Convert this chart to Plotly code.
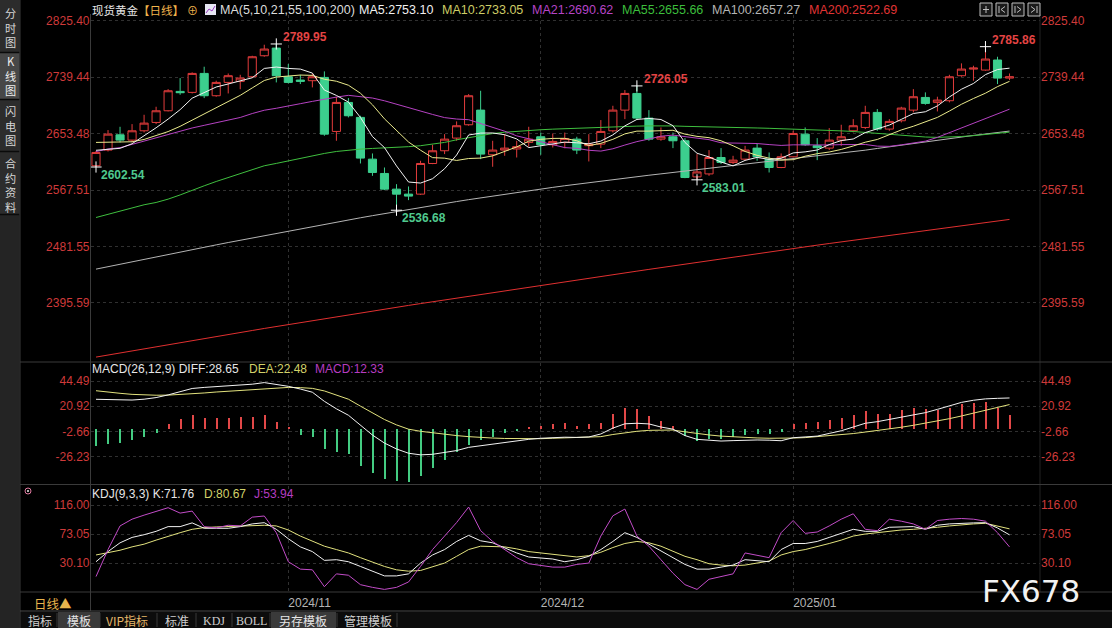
import plotly.graph_objects as go

W, H = 1112, 628
BG = "#000000"
UP = "#e23c3c"
DN = "#3ccf8e"
GRID = "#303030"
AXRED = "#cf3a3a"
NUM = "Liberation Sans, Arial, sans-serif"
CJK = "Noto Sans CJK SC, sans-serif"

# ---------------- data ----------------
idx = list(range(77))                      # trading-day index, 2024-10-10 .. 2025-01-28
month_ticks = [16, 37, 58]
month_labels = ["2024/11", "2024/12", "2025/01"]

opens = [2604.4, 2628.3, 2651.6, 2643.5, 2657.7, 2670.4, 2688.2, 2717.7, 2716.2, 2745.1,
         2711.1, 2731.4, 2733.0, 2740.0, 2772.0, 2783.7, 2740.0, 2735.0, 2734.0, 2739.0,
         2656.7, 2700.9, 2678.1, 2614.5, 2592.7, 2568.8, 2561.2, 2561.2, 2607.9, 2627.3,
         2646.6, 2666.9, 2689.2, 2621.2, 2628.3, 2630.0, 2640.0, 2648.6, 2636.4, 2640.0,
         2645.0, 2635.0, 2637.4, 2657.7, 2689.2, 2714.6, 2677.0, 2645.0, 2648.6, 2642.5,
         2587.5, 2592.0, 2617.0, 2609.5, 2614.5, 2631.3, 2614.5, 2601.8, 2618.1, 2652.6,
         2635.0, 2631.3, 2643.5, 2657.7, 2662.8, 2685.7, 2660.3, 2673.0, 2689.2, 2708.5,
         2701.0, 2703.5, 2741.6, 2751.7, 2750.2, 2765.5, 2738.0]
highs = [2627.0, 2658.8, 2663.8, 2667.9, 2682.1, 2694.3, 2721.2, 2738.0, 2746.7, 2755.3,
         2734.0, 2745.0, 2743.0, 2772.0, 2788.8, 2789.95, 2759.4, 2743.0, 2745.0, 2748.2,
         2709.6, 2707.5, 2680.6, 2623.2, 2601.8, 2576.4, 2572.9, 2612.0, 2636.4, 2652.6,
         2672.0, 2713.6, 2718.7, 2642.5, 2652.6, 2642.5, 2663.8, 2655.0, 2653.6, 2655.0,
         2648.6, 2652.6, 2674.0, 2695.8, 2719.7, 2726.05, 2689.2, 2662.8, 2655.0, 2646.6,
         2622.2, 2628.3, 2631.3, 2619.6, 2634.8, 2638.4, 2624.7, 2623.2, 2657.7, 2662.8,
         2646.6, 2661.8, 2666.9, 2675.5, 2695.8, 2690.8, 2675.5, 2694.3, 2721.2, 2716.2,
         2709.6, 2743.0, 2760.4, 2756.8, 2785.86, 2770.5, 2745.0]
lows = [2602.54, 2626.2, 2640.0, 2640.0, 2655.2, 2667.9, 2687.2, 2712.6, 2714.6, 2707.5,
        2709.5, 2714.6, 2721.0, 2738.0, 2770.5, 2731.4, 2729.9, 2728.9, 2723.8, 2650.1,
        2642.5, 2678.1, 2607.9, 2589.1, 2567.3, 2536.68, 2552.1, 2560.0, 2606.9, 2622.2,
        2642.5, 2665.4, 2614.5, 2602.9, 2619.6, 2617.0, 2633.3, 2621.2, 2632.3, 2631.0,
        2622.2, 2611.0, 2631.3, 2655.2, 2675.5, 2674.0, 2642.5, 2642.5, 2631.3, 2585.5,
        2583.01, 2589.1, 2607.0, 2607.0, 2612.0, 2612.0, 2594.2, 2600.8, 2617.0, 2634.8,
        2613.0, 2628.3, 2634.8, 2655.2, 2660.3, 2657.7, 2657.7, 2670.4, 2685.7, 2697.4,
        2687.2, 2701.0, 2740.0, 2734.0, 2749.2, 2728.9, 2735.0]
closes = [2624.7, 2652.6, 2643.5, 2657.7, 2669.4, 2688.2, 2718.7, 2715.7, 2745.1, 2711.1,
          2731.4, 2741.6, 2738.0, 2770.5, 2782.2, 2741.6, 2731.4, 2733.0, 2740.0, 2652.6,
          2700.9, 2680.6, 2616.1, 2594.2, 2568.8, 2561.2, 2558.2, 2607.9, 2627.3, 2645.0,
          2665.4, 2711.1, 2622.2, 2628.3, 2631.3, 2633.5, 2645.0, 2636.4, 2641.5, 2646.0,
          2628.3, 2637.4, 2656.7, 2689.2, 2714.6, 2677.0, 2645.0, 2648.6, 2642.5, 2586.5,
          2595.0, 2617.0, 2609.5, 2613.0, 2628.3, 2618.0, 2601.8, 2618.1, 2653.6, 2636.4,
          2632.0, 2643.5, 2648.6, 2665.4, 2685.7, 2660.3, 2672.0, 2692.3, 2709.6, 2699.4,
          2704.5, 2740.0, 2751.7, 2753.2, 2767.0, 2738.0, 2740.0]

ma5 = [2628.0, 2629.5, 2631.0, 2638.0, 2649.6, 2662.3, 2675.5, 2689.9, 2707.4, 2715.8,
       2724.4, 2729.0, 2733.4, 2738.5, 2752.7, 2754.8, 2752.7, 2751.7, 2745.6, 2719.7,
       2711.6, 2701.4, 2678.0, 2648.9, 2632.1, 2604.2, 2579.7, 2578.1, 2584.7, 2599.9,
       2620.8, 2651.3, 2654.2, 2654.4, 2651.7, 2645.3, 2632.1, 2634.9, 2637.5, 2640.5,
       2639.4, 2637.9, 2642.0, 2651.5, 2665.2, 2675.0, 2676.5, 2674.9, 2665.5, 2639.9,
       2623.5, 2617.9, 2610.1, 2604.2, 2612.6, 2617.2, 2614.1, 2615.8, 2624.0, 2625.6,
       2628.4, 2636.7, 2642.8, 2645.2, 2655.0, 2660.7, 2666.4, 2675.1, 2684.0, 2686.7,
       2695.6, 2709.2, 2721.0, 2729.8, 2743.3, 2751.0, 2753.10]
ma10 = [2640.0, 2640.0, 2640.5, 2641.0, 2644.5, 2650.0, 2656.5, 2664.5, 2674.0, 2682.7,
        2693.3, 2702.2, 2711.7, 2723.0, 2734.3, 2739.6, 2740.9, 2742.6, 2742.1, 2736.2,
        2733.2, 2727.1, 2714.9, 2697.3, 2675.9, 2657.9, 2640.6, 2628.1, 2616.8, 2616.0,
        2612.5, 2615.5, 2616.1, 2619.5, 2625.8, 2633.1, 2641.9, 2644.7, 2646.1, 2646.2,
        2642.5, 2635.1, 2638.6, 2644.7, 2653.0, 2657.2, 2657.2, 2658.4, 2658.5, 2652.6,
        2649.2, 2647.2, 2642.5, 2634.9, 2626.2, 2620.3, 2616.0, 2613.0, 2613.7, 2619.0,
        2622.8, 2625.4, 2629.3, 2634.6, 2640.3, 2644.5, 2651.6, 2659.0, 2664.6, 2670.9,
        2678.1, 2687.8, 2698.1, 2706.9, 2715.0, 2725.0, 2733.05]
ma21 = [2626.0, 2630.0, 2632.0, 2637.0, 2642.5, 2648.0, 2653.0, 2657.0, 2662.0, 2666.0,
        2670.0, 2674.0, 2678.0, 2684.0, 2689.0, 2692.0, 2695.0, 2699.0, 2702.5, 2706.0,
        2709.0, 2711.7, 2710.0, 2707.6, 2703.4, 2698.2, 2692.0, 2686.8, 2682.6, 2677.8,
        2675.6, 2674.6, 2669.0, 2663.7, 2657.1, 2650.0, 2645.5, 2641.0, 2636.6, 2632.1,
        2631.0, 2628.0, 2626.8, 2630.3, 2636.0, 2641.2, 2645.2, 2649.5, 2651.1, 2649.1,
        2646.5, 2644.2, 2639.4, 2638.9, 2638.9, 2638.3, 2636.7, 2635.4, 2636.3, 2636.0,
        2635.4, 2636.1, 2636.6, 2637.0, 2636.9, 2634.3, 2634.0, 2636.3, 2639.2, 2641.9,
        2647.7, 2654.8, 2661.2, 2668.1, 2675.4, 2682.5, 2690.62]
ma55 = [2525.6, 2530.7, 2535.8, 2540.9, 2545.0, 2548.5, 2553.6, 2560.0, 2567.3, 2573.9,
        2580.5, 2586.6, 2592.7, 2599.3, 2604.4, 2608.0, 2612.0, 2615.6, 2619.6, 2623.2,
        2626.2, 2628.3, 2629.8, 2630.8, 2631.5, 2632.5, 2633.5, 2635.0, 2637.0, 2640.0,
        2644.0, 2647.5, 2650.5, 2653.5, 2655.5, 2657.0, 2658.3, 2659.3, 2660.2, 2661.0,
        2661.8, 2662.5, 2663.0, 2663.6, 2664.2, 2664.8, 2665.2, 2665.4, 2665.1, 2664.5,
        2663.9, 2663.5, 2663.1, 2662.8, 2662.4, 2662.0, 2661.5, 2661.0, 2660.3, 2659.2,
        2658.6, 2658.1, 2657.6, 2656.6, 2655.2, 2653.7, 2652.0, 2650.3, 2649.0, 2648.2,
        2647.7, 2648.0, 2649.0, 2650.3, 2652.1, 2654.0, 2655.66]
ma100 = [2447.0, 2450.8, 2454.5, 2458.3, 2462.0, 2465.7, 2469.4, 2473.0, 2476.7, 2480.3,
         2483.9, 2487.5, 2491.0, 2494.6, 2498.1, 2501.6, 2505.1, 2508.5, 2511.9, 2515.3,
         2518.6, 2521.9, 2525.2, 2528.4, 2531.6, 2534.8, 2537.9, 2541.0, 2544.0, 2547.0,
         2549.9, 2552.8, 2555.6, 2558.4, 2561.1, 2563.8, 2566.4, 2569.0, 2571.5, 2574.0,
         2576.4, 2578.8, 2581.1, 2583.4, 2585.6, 2587.8, 2590.0, 2592.1, 2594.2, 2596.3,
         2598.4, 2600.4, 2602.4, 2604.4, 2606.4, 2608.4, 2610.4, 2612.4, 2614.5, 2616.6,
         2618.8, 2621.0, 2623.3, 2625.7, 2628.2, 2630.8, 2633.4, 2636.0, 2638.6, 2641.2,
         2643.7, 2646.1, 2648.4, 2650.6, 2652.8, 2655.0, 2657.27]
ma200 = [2313.0, 2316.2, 2319.3, 2322.5, 2325.6, 2328.7, 2331.8, 2334.9, 2338.0, 2341.1,
         2344.2, 2347.3, 2350.4, 2353.5, 2356.6, 2359.6, 2362.7, 2365.7, 2368.8, 2371.8,
         2374.7, 2377.6, 2380.5, 2383.3, 2386.1, 2388.9, 2391.7, 2394.5, 2397.3, 2400.1,
         2402.9, 2405.7, 2408.5, 2411.3, 2414.1, 2416.9, 2419.6, 2422.3, 2425.0, 2427.7,
         2430.4, 2433.1, 2435.8, 2438.5, 2441.2, 2443.9, 2446.6, 2449.3, 2452.0, 2454.7,
         2457.4, 2460.1, 2462.8, 2465.5, 2468.2, 2470.8, 2473.4, 2476.0, 2478.5, 2481.0,
         2483.5, 2486.0, 2488.5, 2491.0, 2493.5, 2495.9, 2498.3, 2500.8, 2503.2, 2505.6,
         2508.0, 2510.4, 2512.9, 2515.3, 2517.7, 2520.2, 2522.69]

diff = [27.4, 27.0, 26.8, 26.7, 27.5, 29.0, 31.5, 34.5, 37.5, 38.5,
        39.2, 40.0, 40.5, 41.5, 43.0, 41.5, 39.5, 37.0, 34.0, 25.5,
        18.5, 12.5, 3.5, -6.0, -13.5, -19.0, -23.0, -24.5, -24.0, -22.5,
        -20.5, -17.5, -16.0, -14.0, -12.5, -11.2, -10.0, -9.0, -8.2, -8.0,
        -8.2, -7.8, -5.0, 0.5, 4.5, 5.0, 4.4, 1.5, -0.5, -6.5,
        -10.0, -11.0, -11.6, -11.2, -10.6, -10.6, -10.8, -11.3, -8.5, -7.5,
        -7.0, -4.5, -2.0, 1.5, 5.0, 6.5, 8.5, 10.5, 12.7, 14.9,
        18.0, 21.5, 24.5, 26.5, 27.8, 28.3, 28.65]
dea = [35.4, 34.0, 33.0, 32.0, 31.5, 31.2, 31.3, 31.8, 32.5, 33.3,
       34.2, 35.0, 35.8, 36.6, 37.5, 38.2, 38.5, 38.3, 37.6, 35.2,
       31.5, 27.5, 21.0, 14.5, 8.5, 3.5, -0.5, -2.5, -4.0, -5.3,
       -6.5, -7.5, -8.3, -8.8, -9.2, -9.5, -9.6, -9.4, -9.0, -8.6,
       -8.4, -8.2, -7.5, -5.5, -3.8, -2.5, -1.6, -1.2, -1.3, -3.0,
       -4.6, -5.9, -7.0, -7.8, -8.3, -8.7, -9.0, -9.1, -8.8, -8.4,
       -7.6, -6.8, -5.8, -4.6, -3.2, -1.9, -0.5, 1.3, 3.1, 5.0,
       7.0, 9.3, 11.8, 14.4, 16.9, 19.8, 22.48]
macd = [-16.2, -14.0, -13.0, -10.9, -7.8, -3.7, 4.7, 8.7, 12.8, 10.3,
        10.3, 10.3, 10.9, 10.9, 12.8, 6.5, 0.8, -5.6, -7.8, -19.3,
        -21.8, -23.4, -34.9, -41.1, -47.3, -49.2, -49.8, -44.0, -37.0, -29.0,
        -22.0, -15.0, -11.0, -7.5, -4.5, -2.0, 1.5, 2.5, 4.7, 5.0,
        2.0, 4.0, 5.6, 13.4, 19.6, 18.0, 11.8, 7.0, 2.5, -6.8,
        -11.5, -10.0, -10.0, -7.8, -5.9, -4.7, -5.3, -2.8, 4.0, 5.6,
        6.2, 7.8, 10.3, 12.8, 16.5, 14.0, 14.0, 17.1, 19.6, 18.0,
        17.1, 19.6, 23.4, 24.0, 25.0, 19.0, 12.33]

k_line = [32, 47, 60, 68, 72, 77, 84, 84, 89.5, 81.5,
          81.5, 81.5, 84, 88, 89.8, 80, 66, 54, 47, 34,
          35, 32, 25, 18, 11, 11, 14, 30, 42, 50,
          62, 71, 63, 60, 52, 45, 39, 37, 36, 32,
          35, 40, 50, 62, 75, 68, 58, 47, 38, 28,
          21, 21, 24, 27, 35, 34, 32, 50, 59, 59,
          62, 68, 74, 80, 77, 77, 83, 84, 84, 80,
          86, 88, 89, 89.5, 89.8, 82, 71.76]
d_line = [42, 45, 49, 54, 58, 64, 70, 75, 80, 82.5,
          83.5, 84, 84, 84.5, 86, 85, 79, 70, 62, 55,
          50, 45, 38, 31, 25, 20, 18, 19, 24, 30,
          40, 50, 55, 55, 54, 51, 47, 45, 43, 40,
          39, 41, 46, 53, 59, 62, 60, 55, 48, 40,
          35, 29, 27, 26, 27, 30, 33, 42, 47, 50,
          54, 59, 64, 70, 73, 75, 78, 79, 80, 81,
          83, 85, 87, 88, 88.9, 85, 80.67]
j_line = [10, 50, 85, 95, 101, 107, 112, 104, 107, 84,
          82, 86, 85, 98, 99.7, 75, 32, 21, 20, -5,
          14, 12, -2, -6, -9, -6, 2, 25, 50, 70,
          90, 113, 78, 62, 50, 38, 29, 26, 24, 24,
          28, 30, 70, 100, 110, 70, 55, 35, 15, -2,
          -9, 6, 10, 14, 45, 42, 38, 75, 93, 74,
          76, 85, 95, 103, 80, 78, 95, 92, 88, 80,
          93, 95, 96, 95, 92, 75, 53.94]

price_ticks = ["2825.40", "2739.44", "2653.48", "2567.51", "2481.55", "2395.59"]
macd_ticks = ["44.49", "20.92", "-2.66", "-26.23"]
kdj_ticks = ["116.00", "73.05", "30.10"]

ext_idx = [0, 15, 25, 45, 50, 74]
ext_kind = ["low", "high", "low", "high", "low", "high"]

# ---------------- helpers ----------------
def fx(x):
    return x / W

def fy(y):
    return 1 - y / H

ann = []
shapes = []

def txt(x, y, s, color, size=12, family=NUM, xanchor="left"):
    ann.append(dict(x=fx(x), y=fy(y), xref="paper", yref="paper", text=s, showarrow=False,
                    xanchor=xanchor, yanchor="middle", borderpad=0,
                    font=dict(color=color, size=size, family=family)))

def rect(x0, y0, x1, y1, fill, line=None, layer="below"):
    shapes.append(dict(type="rect", xref="paper", yref="paper", x0=fx(x0), x1=fx(x1),
                       y0=fy(y1), y1=fy(y0), fillcolor=fill, layer=layer,
                       line=dict(width=0) if line is None else dict(color=line, width=1)))

def seg(x0, y0, x1, y1, color, width=1, dash="solid"):
    shapes.append(dict(type="line", xref="paper", yref="paper", x0=fx(x0), x1=fx(x1),
                       y0=fy(y0), y1=fy(y1), layer="above",
                       line=dict(color=color, width=width, dash=dash)))

# pixel calibration of panes
PL, PR = 90.5, 1040.0            # plot left/right
CX0, CDX = 96.0, 12.02           # x of first candle, spacing
main_top, main_bot = 15, 361
macd_top, macd_bot = 363, 483
kdj_top, kdj_bot = 486, 591
p_per_px = (2825.40 - 2567.51) / (190.0 - 20.7)
main_rng = [2825.40 - (main_bot - 20.7) * p_per_px, 2825.40 + (20.7 - main_top) * p_per_px]
m_per_px = 0.9342
macd_rng = [44.49 - (macd_bot - 381) * m_per_px, 44.49 + (381 - macd_top) * m_per_px]
k_per_px = 42.95 / 29.0
kdj_rng = [116.0 - (kdj_bot - 505) * k_per_px, 116.0 + (505 - kdj_top) * k_per_px]
x_rng = [(PL - CX0) / CDX, (PR - CX0) / CDX]

# ---------------- traces ----------------
fig = go.Figure()
fig.add_trace(go.Candlestick(
    x=idx, open=opens, high=highs, low=lows, close=closes,
    increasing=dict(line=dict(color=UP, width=1), fillcolor=BG),
    decreasing=dict(line=dict(color=DN, width=1), fillcolor=DN),
    whiskerwidth=0, hoverinfo="skip", showlegend=False, xaxis="x", yaxis="y"))

ma_styles = [(ma200, "#e03030"), (ma100, "#b4b4b4"), (ma55, "#3fbf3f"),
             (ma21, "#b542c2"), (ma10, "#eaea8c"), (ma5, "#f2f2f2")]
for arr, col in ma_styles:
    fig.add_trace(go.Scatter(x=idx, y=arr, mode="lines", line=dict(color=col, width=1),
                             hoverinfo="skip", showlegend=False, xaxis="x", yaxis="y"))

ext_x = ext_idx
ext_y = [lows[i] if k == "low" else highs[i] for i, k in zip(ext_idx, ext_kind)]
fig.add_trace(go.Scatter(x=ext_x, y=ext_y, mode="markers",
                         marker=dict(symbol="cross-thin", size=8, line=dict(color="#ffffff", width=1)),
                         hoverinfo="skip", showlegend=False, xaxis="x", yaxis="y4"))

bar_cols = ["#e24848" if v >= 0 else "#44cc82" for v in macd]
fig.add_trace(go.Bar(x=idx, y=macd, width=0.1, marker=dict(color=bar_cols, line=dict(width=0)),
                     hoverinfo="skip", showlegend=False, xaxis="x", yaxis="y2"))
fig.add_trace(go.Scatter(x=idx, y=dea, mode="lines", line=dict(color="#e2e27e", width=1),
                         hoverinfo="skip", showlegend=False, xaxis="x", yaxis="y5"))
fig.add_trace(go.Scatter(x=idx, y=diff, mode="lines", line=dict(color="#f2f2f2", width=1),
                         hoverinfo="skip", showlegend=False, xaxis="x", yaxis="y5"))

fig.add_trace(go.Scatter(x=idx, y=d_line, mode="lines", line=dict(color="#e2e27e", width=1),
                         hoverinfo="skip", showlegend=False, xaxis="x", yaxis="y3"))
fig.add_trace(go.Scatter(x=idx, y=k_line, mode="lines", line=dict(color="#f2f2f2", width=1),
                         hoverinfo="skip", showlegend=False, xaxis="x", yaxis="y3"))
fig.add_trace(go.Scatter(x=idx, y=j_line, mode="lines", line=dict(color="#c24cc8", width=1),
                         hoverinfo="skip", showlegend=False, xaxis="x", yaxis="y6"))

# ---------------- axes ----------------
def yax(top, bot, rng, ticks, side="left", overlay=None):
    d = dict(domain=[fy(bot), fy(top)], range=rng, tickvals=[float(t) for t in ticks],
             ticktext=ticks, tickfont=dict(color=AXRED, size=12, family=NUM),
             showgrid=overlay is None, gridcolor=GRID, griddash="dot", gridwidth=1,
             zeroline=False, showline=False, ticks="", fixedrange=True, anchor="x", side=side)
    if overlay:
        d["overlaying"] = overlay
    return d

layout = dict(
    width=W, height=H, autosize=False, margin=dict(l=0, r=0, t=0, b=0),
    paper_bgcolor=BG, plot_bgcolor=BG, showlegend=False, hovermode=False,
    boxgap=0.25, boxgroupgap=0.1, bargap=0,
    xaxis=dict(domain=[fx(PL), fx(PR)], range=x_rng, type="linear", anchor="y3",
               tickvals=month_ticks, ticktext=month_labels, ticklabelposition="outside right",
               tickfont=dict(color="#b4b4b4", size=12, family=NUM), ticks="",
               showgrid=True, gridcolor=GRID, griddash="dot", gridwidth=1,
               zeroline=False, showline=False, fixedrange=True,
               rangeslider=dict(visible=False), ticklabelstandoff=3),
    yaxis=yax(main_top, main_bot, main_rng, price_ticks),
    yaxis2=yax(macd_top, macd_bot, macd_rng, macd_ticks),
    yaxis3=yax(kdj_top, kdj_bot, kdj_rng, kdj_ticks),
    yaxis4=yax(main_top, main_bot, main_rng, price_ticks, "right", "y"),
    yaxis5=yax(macd_top, macd_bot, macd_rng, macd_ticks, "right", "y2"),
    yaxis6=yax(kdj_top, kdj_bot, kdj_rng, kdj_ticks, "right", "y3"),
)

# ---------------- chrome ----------------
# left sidebar
rect(0, 0, 19.5, H, "#242424")
rect(0, 0, 19.5, 52, "#2c2c2c")
rect(0, 53, 19.5, 99, "#474747")
rect(0, 100, 19.5, 151, "#2c2c2c")
rect(0, 152, 19.5, 214, "#2c2c2c")
for yy in (52.5, 99.5, 151.5, 214.5):
    seg(0, yy, 19.5, yy, "#0a0a0a", 1.5)
seg(20, 0, 20, H, "#3a3a3a")
side_blocks = [("分<br>时<br>图", 27, "#d6d6d6"), ("K<br>线<br>图", 75, "#ececec"),
               ("闪<br>电<br>图", 125, "#d6d6d6"), ("合<br>约<br>资<br>料", 184.5, "#d6d6d6")]
for s, yc, col in side_blocks:
    txt(10, yc, s, col, 11.2, CJK, "center")

# pane borders
seg(PL, 14, PL, 611, "#3a3a3a")
seg(PR, 14, PR, 592, "#222222")
for yy in (362, 484.5, 592):
    seg(20, yy, W, yy, "#3a3a3a")
seg(20, 611, W, 611, "#4a4a4a")

# header
txt(91, 10, "现货黄金", "#e6e6e6", 11.5, CJK)
txt(137, 10, "【日线】", "#f0b44c", 11.5, CJK)
txt(186, 10, "⊕", "#f0b44c", 11, CJK)
rect(205, 4, 216, 15, "#e6e6f2", None, "above")
shapes.append(dict(type="path", xref="paper", yref="paper", layer="above",
                   path=f"M {fx(206)},{fy(13)} L {fx(209)},{fy(9)} L {fx(212)},{fy(11)} L {fx(215)},{fy(6)}",
                   line=dict(color="#9a3cc0", width=1)))
txt(219, 10, "MA(5,10,21,55,100,200)", "#dcdcdc", 12.5)
txt(358, 10, f"MA5:{ma5[-1]:.2f}", "#f0f0f0", 12.5)
txt(441, 10, f"MA10:{ma10[-1]:.2f}", "#cdcd66", 12.5)
txt(531, 10, f"MA21:{ma21[-1]:.2f}", "#b644c6", 12.5)
txt(621, 10, f"MA55:{ma55[-1]:.2f}", "#3cbe3c", 12.5)
txt(711, 10, f"MA100:{ma100[-1]:.2f}", "#b4b4b4", 12.5)
txt(808, 10, f"MA200:{ma200[-1]:.2f}", "#e03434", 12.5)

# toolbar icons
for x0 in (980, 996, 1012, 1028):
    rect(x0, 3, x0 + 12, 16, "#1a1a1a", "#bdbdbd", "above")
seg(983, 9.5, 989, 9.5, "#bdbdbd"); seg(986, 6, 986, 13, "#bdbdbd")
seg(999, 6, 999, 13, "#bdbdbd"); seg(1001, 9.5, 1005, 6.5, "#bdbdbd"); seg(1001, 9.5, 1005, 12.5, "#bdbdbd")
seg(1015, 6, 1015, 13, "#bdbdbd"); seg(1017, 6.5, 1021, 9.5, "#bdbdbd"); seg(1017, 12.5, 1021, 9.5, "#bdbdbd")
seg(1031, 6.5, 1035, 9.5, "#bdbdbd"); seg(1031, 12.5, 1035, 9.5, "#bdbdbd"); seg(1037, 6, 1037, 13, "#bdbdbd")

# pane legends
txt(91, 369, f"MACD(26,12,9) DIFF:{diff[-1]:.2f}", "#e6e6e6", 12)
txt(248, 369, f"DEA:{dea[-1]:.2f}", "#d2d26a", 12)
txt(314, 369, f"MACD:{macd[-1]:.2f}", "#b63cc0", 12)
txt(91, 494, f"KDJ(9,3,3) K:{k_line[-1]:.2f}", "#e6e6e6", 12)
txt(203, 494, f"D:{d_line[-1]:.2f}", "#d2d26a", 12)
txt(253, 494, f"J:{j_line[-1]:.2f}", "#b63cc0", 12)
shapes.append(dict(type="circle", xref="paper", yref="paper", layer="above",
                   x0=fx(25), x1=fx(31), y0=fy(494), y1=fy(488),
                   line=dict(color="#e07aa0", width=1), fillcolor="#000000"))
shapes.append(dict(type="circle", xref="paper", yref="paper", layer="above",
                   x0=fx(27), x1=fx(29), y0=fy(492), y1=fy(490),
                   line=dict(width=0), fillcolor="#f0f0f0"))

# extreme-price labels
for i, k in zip(ext_idx, ext_kind):
    if k == "high":
        v, col, xs, ys = highs[i], "#e44444", 6, 7
    else:
        v, col, xs, ys = lows[i], "#4fc98e", 4, -8
    ann.append(dict(x=i, y=v, xref="x", yref="y", text=f"<b>{v:.2f}</b>", showarrow=False,
                    xanchor="left", yanchor="middle", xshift=xs, yshift=ys, borderpad=0,
                    font=dict(color=col, size=12, family=NUM)))

# date row
txt(33, 603, "日线▲", "#e8b44c", 12.5, CJK)

# bottom tab row
rect(20, 612, W, H, "#0c0c0c")
rect(58, 612, 100, H, "#3a3a3a")
rect(271, 612, 336, H, "#3a3a3a")
for xx in (57, 100, 157, 196, 232, 270, 337, 397):
    seg(xx, 613, xx, 627, "#383838")
tabs = [("指标", 40, "#cfcfcf", CJK), ("模板", 79, "#e6e6e6", CJK), ("VIP指标", 127, "#e6b86a", CJK),
        ("标准", 177, "#cfcfcf", CJK), ("KDJ", 214, "#cfcfcf", "Liberation Serif, serif"),
        ("BOLL", 251, "#cfcfcf", "Liberation Serif, serif"), ("另存模板", 303, "#e6e6e6", CJK),
        ("管理模板", 368, "#cfcfcf", CJK)]
for s, xc, col, fam in tabs:
    txt(xc, 620.5, s, col, 12, fam, "center")

# watermark
txt(1031, 591, "FX678", "#f2f2f2", 31, "DejaVu Sans, sans-serif", "center")

layout["annotations"] = ann
layout["shapes"] = shapes
fig.update_layout(**layout)
fig.write_html("out.html")
